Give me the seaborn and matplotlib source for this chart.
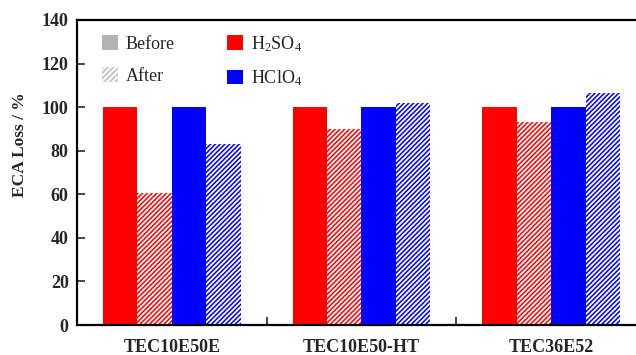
import matplotlib
matplotlib.use("Agg")
import matplotlib.pyplot as plt
from matplotlib.patches import Patch
import seaborn as sns
import pandas as pd

catalysts = ["TEC10E50E", "TEC10E50-HT", "TEC36E52"]
h2so4_before = [100, 100, 100]
h2so4_after = [60.6, 90.1, 93.0]
hclo4_before = [100, 100, 100]
hclo4_after = [83.3, 101.7, 106.6]
y_ticks = [0, 20, 40, 60, 80, 100, 120, 140]

series = [
    ("H2SO4 Before", h2so4_before),
    ("H2SO4 After", h2so4_after),
    ("HClO4 Before", hclo4_before),
    ("HClO4 After", hclo4_after),
]
rows = []
for name, vals in series:
    for c, v in zip(catalysts, vals):
        rows.append({"catalyst": c, "series": name, "value": v})
df = pd.DataFrame(rows)

sns.set_style("white")
plt.rcParams["font.family"] = ["Liberation Serif", "DejaVu Serif"]
plt.rcParams["mathtext.fontset"] = "custom"
plt.rcParams["mathtext.rm"] = "Liberation Serif"
plt.rcParams["mathtext.it"] = "Liberation Serif:italic"
plt.rcParams["hatch.linewidth"] = 1.3

fig = plt.figure(figsize=(6.36, 3.55), dpi=100)
ax = fig.add_axes([77 / 636, 30 / 355, 569 / 636, 305 / 355])

palette = {"H2SO4 Before": "#ff0000", "H2SO4 After": "#ff0000",
           "HClO4 Before": "#0000ff", "HClO4 After": "#0000ff"}
sns.barplot(data=df, x="catalyst", y="value", hue="series",
            hue_order=[s[0] for s in series], order=catalysts,
            palette=palette, width=0.727, gap=0, saturation=1,
            ax=ax, legend=False, linewidth=0)

# hatch the "After" bars
for container, (name, _) in zip(ax.containers, series):
    for bar in container:
        if "After" in name:
            bar.set_hatch("///////")
            bar.set_edgecolor("white")
            bar.set_linewidth(0)

ax.set_xlim(-0.5, 2.5)
ax.set_ylim(0, 140)
ax.set_yticks(y_ticks)
ax.set_yticklabels([str(t) for t in y_ticks], fontsize=13, fontweight="bold")
ax.set_xticks(range(len(catalysts)))
ax.set_xticklabels(catalysts, fontsize=13, fontweight="bold")
ax.set_xticks([0.5, 1.5], minor=True)
ax.tick_params(axis="x", which="major", length=0, pad=10)
ax.tick_params(axis="x", which="minor", direction="in", length=6, width=1.2, bottom=True)
ax.tick_params(axis="y", which="major", direction="in", length=6, width=1.2, left=True, pad=6)
ax.set_xlabel("")
ax.set_ylabel("ECA Loss / %", fontsize=12.5, fontweight="bold")
ax.yaxis.set_label_coords(-0.086, 0.59)

for side in ["left", "bottom", "top"]:
    ax.spines[side].set_visible(True)
    ax.spines[side].set_linewidth(1.6)
    ax.spines[side].set_color("black")
ax.spines["right"].set_visible(False)

handles = [
    Patch(facecolor="#b3b3b3", edgecolor="none", label="Before"),
    Patch(facecolor="#c8c8c8", edgecolor="white", hatch="//////", linewidth=0, label="After"),
    Patch(facecolor="#ff0000", edgecolor="none", label="H$_2$SO$_4$"),
    Patch(facecolor="#0000ff", edgecolor="none", label="HClO$_4$"),
]
ax.legend(handles=handles, ncol=2, frameon=False, loc="upper left",
          bbox_to_anchor=(0.016, 1.008), fontsize=13, handlelength=0.85,
          handleheight=0.85, handletextpad=0.45, labelspacing=0.8,
          columnspacing=2.9)

fig.savefig("out.png", dpi=100)
